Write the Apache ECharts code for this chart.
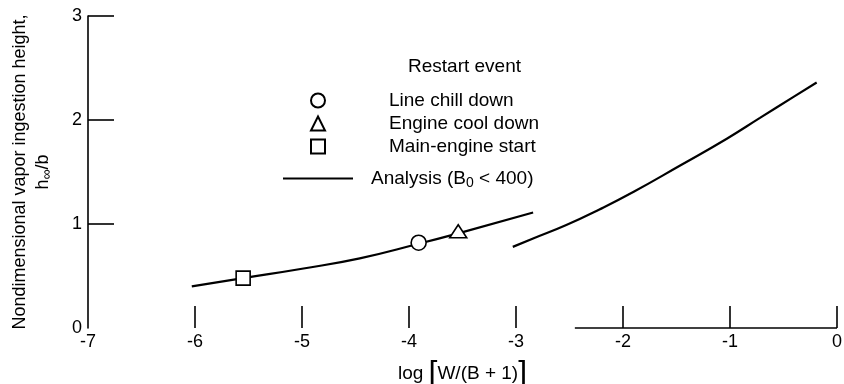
<!DOCTYPE html>
<html>
<head>
<meta charset="utf-8">
<script src="https://cdn.jsdelivr.net/npm/echarts@6/dist/echarts.min.js"></script>
<style>
  html, body { margin: 0; padding: 0; background: #fff; }
  #vaporChart { width: 844px; height: 384px; }
</style>
</head>
<body>
<div id="vaporChart"></div>
<script>
// analysis curve, left branch (x = log[W/(B+1)], y = h/b)
var analysisLeft = [
  [-6.03, 0.40], [-5.55, 0.48], [-5.0, 0.57], [-4.46, 0.67],
  [-3.91, 0.81], [-3.54, 0.91], [-2.84, 1.11]
];
// analysis curve, right branch
var analysisRight = [
  [-3.03, 0.78], [-2.84, 0.86], [-2.53, 0.99], [-2.22, 1.14], [-1.90, 1.31],
  [-1.47, 1.56], [-1.03, 1.82], [-0.72, 2.02], [-0.41, 2.22], [-0.19, 2.36]
];
// restart events
var lineChillDown = [[-3.91, 0.82]];
var engineCoolDown = [[-3.54, 0.93]];
var mainEngineStart = [[-5.55, 0.48]];

var xTickValues = [-6, -5, -4, -3, -2, -1, 0];
var yTickValues = [1, 2, 3];
// bottom axis line is only drawn over this range
var xAxisSegment = [[-2.45, 0], [0, 0]];

var FONT = "Liberation Sans";

var myChart = echarts.init(document.getElementById("vaporChart"));

var markerStyle = {
  color: "#fff",
  opacity: 1,
  borderColor: "#000",
  borderWidth: 1.6,
};

var option = {
  animation: false,
  textStyle: { fontFamily: FONT, color: "#000" },
  title: {
    text: "Restart event",
    left: 408,
    top: 57,
    padding: 0,
    textStyle: { fontFamily: FONT, fontSize: 19, fontWeight: "normal", color: "#000" },
  },
  legend: [
    {
      // marker items
      orient: "vertical",
      left: 310,
      top: 91,
      padding: 0,
      itemWidth: 14,
      itemHeight: 14,
      itemGap: 4,
      selectedMode: false,
      data: ["Line chill down", "Engine cool down", "Main-engine start"],
      textStyle: { fontFamily: FONT, fontSize: 19, color: "#000", padding: [0, 0, 0, 59] },
    },
    {
      // analysis line item
      left: 282,
      top: 169,
      padding: 0,
      itemWidth: 70,
      itemHeight: 14,
      selectedMode: false,
      itemStyle: { opacity: 0, color: "transparent", borderWidth: 0 },
      data: ["Analysis"],
      formatter: function () {
        return "{n|Analysis (B}{s|0}{n| < 400)}";
      },
      textStyle: {
        fontFamily: FONT,
        fontSize: 19,
        color: "#000",
        padding: [0, 0, 0, 13],
        rich: {
          n: { fontFamily: FONT, fontSize: 19, color: "#000" },
          s: { fontFamily: FONT, fontSize: 14, color: "#000", padding: [10, 0, 0, 0] },
        },
      },
    },
  ],
  grid: {
    left: 88,
    right: 7,
    top: 16,
    bottom: 56,
    outerBoundsMode: "none",
  },
  xAxis: {
    type: "value",
    min: -7,
    max: 0,
    interval: 1,
    name: "log {b|[}W/(B + 1){b|]}",
    nameLocation: "middle",
    nameGap: 30,
    nameTextStyle: {
      fontFamily: FONT,
      fontSize: 19,
      color: "#000",
      rich: {
        b: { fontFamily: FONT, fontSize: 32, color: "#000" },
      },
    },
    axisLine: { show: false },
    axisTick: {
      show: true,
      inside: true,
      length: 22,
      customValues: xTickValues,
      lineStyle: { color: "#000", width: 1.6 },
    },
    axisLabel: {
      color: "#000",
      fontFamily: FONT,
      fontSize: 18,
      margin: 5,
    },
    splitLine: { show: false },
  },
  yAxis: {
    type: "value",
    min: 0,
    max: 3,
    interval: 1,
    name: "Nondimensional vapor ingestion height,\n{h|h}{s|∞}{h|/b}",
    nameLocation: "middle",
    nameRotate: 90,
    nameGap: 33,
    nameTextStyle: {
      fontFamily: FONT,
      fontSize: 18,
      color: "#000",
      lineHeight: 23,
      rich: {
        h: { fontFamily: FONT, fontSize: 18, color: "#000", lineHeight: 23 },
        s: { fontFamily: FONT, fontSize: 14, color: "#000", padding: [8, 0, 0, 0] },
      },
    },
    axisLine: { show: true, onZero: false, lineStyle: { color: "#000", width: 1.6 } },
    axisTick: {
      show: true,
      inside: true,
      length: 26,
      customValues: yTickValues,
      lineStyle: { color: "#000", width: 1.6 },
    },
    axisLabel: {
      color: "#000",
      fontFamily: FONT,
      fontSize: 18,
      margin: 6,
    },
    splitLine: { show: false },
  },
  series: [
    {
      name: "Analysis",
      type: "line",
      smooth: true,
      symbol: "none",
      data: analysisLeft,
      lineStyle: { color: "#000", width: 2.2 },
      itemStyle: { color: "#000" },
      z: 2,
    },
    {
      name: "Analysis",
      type: "line",
      smooth: true,
      symbol: "none",
      data: analysisRight,
      lineStyle: { color: "#000", width: 2.2 },
      itemStyle: { color: "#000" },
      z: 2,
    },
    {
      // partial bottom axis line
      type: "line",
      symbol: "none",
      silent: true,
      clip: false,
      data: xAxisSegment,
      lineStyle: { color: "#000", width: 1.6 },
      z: 1,
    },
    {
      name: "Line chill down",
      type: "scatter",
      symbol: "circle",
      symbolSize: 15,
      data: lineChillDown,
      itemStyle: markerStyle,
      z: 5,
    },
    {
      name: "Engine cool down",
      type: "scatter",
      symbol: "triangle",
      symbolSize: [17, 13],
      data: engineCoolDown,
      itemStyle: markerStyle,
      z: 5,
    },
    {
      name: "Main-engine start",
      type: "scatter",
      symbol: "rect",
      symbolSize: 14,
      data: mainEngineStart,
      itemStyle: markerStyle,
      z: 5,
    },
  ],
};

myChart.clear();
myChart.setOption(option);
</script>
</body>
</html>
